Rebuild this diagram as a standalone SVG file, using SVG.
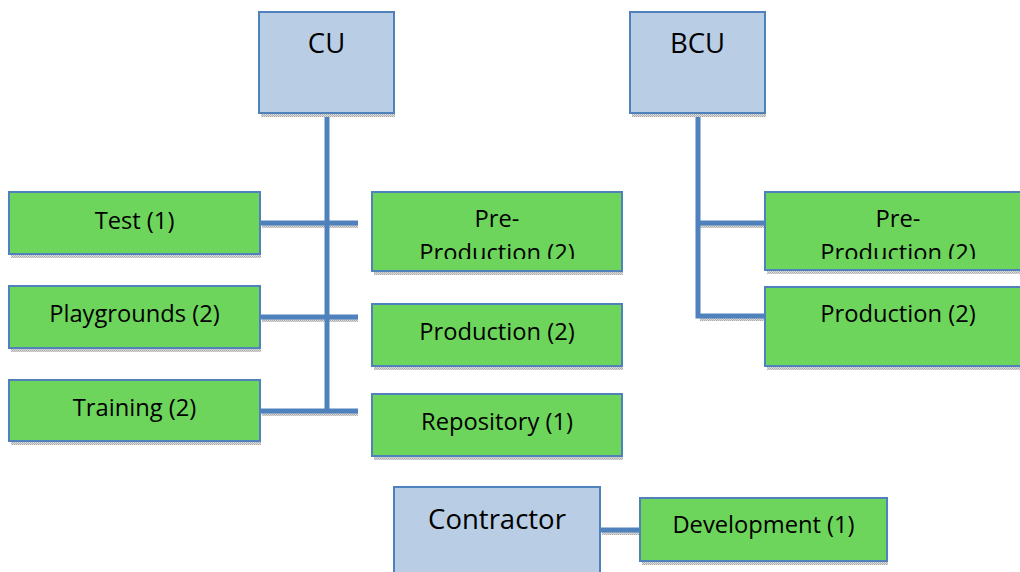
<svg xmlns="http://www.w3.org/2000/svg" width="1020" height="572" viewBox="0 0 1020 572">
<style>
.blue{fill:#b9cde5;stroke:#4f81bd;stroke-width:2}
.green{fill:#6dd55b;stroke:#4f81bd;stroke-width:2}
.sh{fill:url(#dots)}
.t{font-family:"Open Sans","Liberation Sans",sans-serif;font-size:23.7px;fill:#000;text-anchor:middle}
.tb{font-family:"Open Sans","Liberation Sans",sans-serif;font-size:27.5px;fill:#000;text-anchor:middle}
.ln{fill:none;stroke:#4f81bd;stroke-width:5}
.lsh{fill:none;stroke:url(#dots);stroke-width:3}
</style>
<defs>
<pattern id="dots" width="2" height="2" patternUnits="userSpaceOnUse">
<rect width="2" height="2" fill="#dcdcdc"/>
<rect width="1" height="1" fill="#a8a8a8"/>
<rect x="1" y="1" width="1" height="1" fill="#b8b8b8"/>
</pattern>
<clipPath id="clipPre1" clipPathUnits="userSpaceOnUse"><rect x="372" y="192" width="250" height="67"/></clipPath>
<clipPath id="clipPre2" clipPathUnits="userSpaceOnUse"><rect x="765" y="192" width="270" height="67"/></clipPath>
</defs>
<rect width="1020" height="572" fill="#fff"/>

<g id="connectors">
<path class="lsh" d="M262 226.5H358M262 320.5H358M262 414.5H358M700 226.5H765M700 319.5H765M602 533.5H640"/>
<path class="ln" d="M327 113V413M260 223H358M260 317H358M260 411H358"/>
<path class="ln" d="M698 113V316H765M698 223H765"/>
<path class="ln" d="M600 530H642"/>
</g>

<g id="cu">
<rect class="sh" x="261" y="113" width="134" height="4"/>
<rect class="blue" x="259" y="12" width="135" height="101"/>
<text class="tb" x="326.5" y="53">CU</text>
</g>
<g id="bcu">
<rect class="sh" x="632" y="113" width="134" height="4"/>
<rect class="blue" x="630" y="12" width="135" height="101"/>
<text class="tb" x="697.5" y="53">BCU</text>
</g>

<g id="test">
<rect class="sh" x="11" y="254" width="250" height="4"/>
<rect class="green" x="9" y="192" width="251" height="62"/>
<text class="t" x="134.5" y="229">Test (1)</text>
</g>
<g id="playgrounds">
<rect class="sh" x="11" y="348" width="250" height="4"/>
<rect class="green" x="9" y="286" width="251" height="62"/>
<text class="t" x="134.5" y="322">Playgrounds (2)</text>
</g>
<g id="training">
<rect class="sh" x="11" y="441" width="250" height="4"/>
<rect class="green" x="9" y="380" width="251" height="61"/>
<text class="t" x="134.5" y="416">Training (2)</text>
</g>

<g id="cu-preproduction">
<rect class="sh" x="374" y="271" width="249" height="4"/>
<rect class="green" x="372" y="192" width="250" height="79"/>
<g clip-path="url(#clipPre1)">
<text class="t" x="497" y="227">Pre-</text>
<text class="t" x="497" y="261">Production (2)</text>
</g>
</g>
<g id="cu-production">
<rect class="sh" x="374" y="366" width="249" height="4"/>
<rect class="green" x="372" y="304" width="250" height="62"/>
<text class="t" x="497" y="340">Production (2)</text>
</g>
<g id="repository">
<rect class="sh" x="374" y="456" width="249" height="4"/>
<rect class="green" x="372" y="394" width="250" height="62"/>
<text class="t" x="497" y="430">Repository (1)</text>
</g>

<g id="bcu-preproduction">
<rect class="sh" x="767" y="270" width="260" height="4"/>
<rect class="green" x="765" y="192" width="266" height="78"/>
<g clip-path="url(#clipPre2)">
<text class="t" x="898" y="227">Pre-</text>
<text class="t" x="898" y="261">Production (2)</text>
</g>
</g>
<g id="bcu-production">
<rect class="sh" x="767" y="366" width="260" height="4"/>
<rect class="green" x="765" y="287" width="266" height="79"/>
<text class="t" x="898" y="322">Production (2)</text>
</g>

<g id="contractor">
<rect class="blue" x="394" y="487" width="206" height="90"/>
<text class="tb" x="497" y="529">Contractor</text>
</g>
<g id="development">
<rect class="sh" x="642" y="561" width="246" height="4"/>
<rect class="green" x="640" y="498" width="247" height="63"/>
<text class="t" x="763.5" y="533">Development (1)</text>
</g>
</svg>
